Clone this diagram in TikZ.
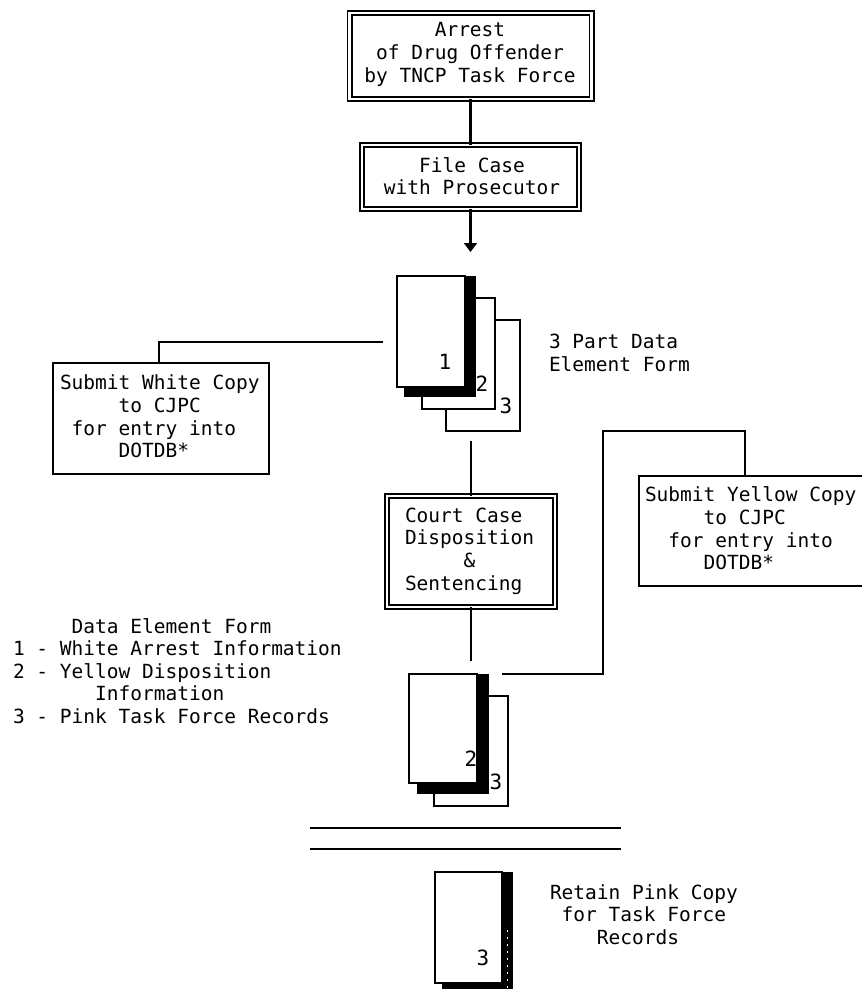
\documentclass[tikz,border=0pt]{standalone}
\usepackage{fontspec}
\setmainfont{DejaVu Sans Mono}
\usetikzlibrary{arrows.meta}
\newlength{\mychar}\setlength{\mychar}{11.74pt}
\newcommand{\ind}[1]{\hspace*{#1\mychar}}
\tikzset{
  x=1pt,y=-1pt,
  every node/.style={inner sep=0pt,outer sep=0pt},
  label text/.style={font=\fontsize{19.5}{22.6}\selectfont,text=black},
  ctext/.style={label text,align=center},
  ltext/.style={label text,align=left,anchor=west},
  conn/.style={line width=2.1pt,draw=black},
  dbox/.style={draw=black,line width=1.8pt,double=white,double distance=2.4pt},
  sbox/.style={draw=black,fill=white,line width=2.2pt},
  sheet/.style={draw=black,fill=white,line width=2.1pt},
  shade/.style={fill=black,draw=none},
  pnum/.style={label text,font=\fontsize{21}{22}\selectfont},
}
\begin{document}
\begin{tikzpicture}
\useasboundingbox (0,0) rectangle (862,989);
% process boxes
\node[dbox,minimum width=242,minimum height=86] (arrest) at (470.5,56) {};
\node[dbox,minimum width=217,minimum height=64] (file) at (470.5,177) {};
\node[dbox,minimum width=168,minimum height=111] (court) at (471,551.5) {};
\node[ctext] (arresttext) at (470,54.5) {Arrest\\of Drug Offender\\by TNCP Task Force};
\node[ctext] (filetext) at (472,176) {File Case\\with Prosecutor};
\node[ltext] (courttext) at (405,551) {Court Case\\Disposition\\\ind{5}\&\\Sentencing};
% first form
\node[sheet,minimum width=74,minimum height=111] (p3a) at (483,375.5) {};
\node[sheet,minimum width=73,minimum height=111] (p2a) at (458.5,353.5) {};
\node[shade,minimum width=72,minimum height=121] (s1a) at (440,336.5) {};
\node[sheet,minimum width=68,minimum height=111] (p1a) at (431,331.5) {};
\node[pnum] (n1a) at (445,362) {1};
\node[pnum] (n2a) at (482,384) {2};
\node[pnum] (n3a) at (506,406) {3};
% second form
\node[sheet,minimum width=74,minimum height=110] (p3b) at (471,751) {};
\node[shade,minimum width=72,minimum height=120] (s2b) at (453,734) {};
\node[sheet,minimum width=68,minimum height=109] (p2b) at (443,728.5) {};
\node[pnum] (n2b) at (471,759) {2};
\node[pnum] (n3b) at (496,782) {3};
% third form
\node[shade,minimum width=71,minimum height=117] (s3c) at (477.5,930.5) {};
\node[sheet,minimum width=67,minimum height=111] (p3c) at (468.5,927.5) {};
\node[pnum] (n3c) at (483,958) {3};
\draw[white,line width=0.9pt,dash pattern=on 2pt off 5pt] (507.5,930) -- (507.5,988);
% side boxes
\node[sbox,minimum width=216,minimum height=111] (white) at (161,418.5) {};
\node[ltext] (whitetext) at (60,416.5) {Submit White Copy\\\ind{5}to CJPC\\\ind{1}for entry into\\\ind{5}DOTDB*};
\coordinate (ytl) at (639,476);
\coordinate (ybl) at (639,586);
\coordinate (ytr) at (862,476);
\coordinate (ybr) at (862,586);
\draw[line width=2.2pt] (ytr) -- (ytl) -- (ybl) -- (ybr);
\node[ltext] (yellowtext) at (645,528.5) {Submit Yellow Copy\\\ind{5}to CJPC\\\ind{2}for entry into\\\ind{5}DOTDB*};
% captions
\node[ltext] (partlabel) at (549,353) {3 Part Data\\Element Form};
\node[ltext] (legend) at (13,671) {\ind{5}Data Element Form\\1 - White Arrest Information\\2 - Yellow Disposition\\\ind{7}Information\\3 - Pink Task Force Records};
\node[ltext] (retain) at (550,914.5) {Retain Pink Copy\\\ind{1}for Task Force\\\ind{4}Records};
% connectors
\coordinate (arrowend) at (470.5,252);
\coordinate (leftstart) at (383,342);
\coordinate (leftcorner) at (159,342);
\coordinate (leftend) at (159,364);
\coordinate (c1top) at (471,441);
\coordinate (c2end) at (471,661);
\coordinate (ystart) at (502,674);
\coordinate (yc1) at (603,674);
\coordinate (yc2) at (603,431);
\coordinate (yc3) at (745,431);
\coordinate (yend) at (745,476);
\coordinate (r1a) at (310,828);
\coordinate (r1b) at (621,828);
\coordinate (r2a) at (310,849);
\coordinate (r2b) at (621,849);
\draw[conn] (arrest.south) -- (file.north);
\draw[conn,-{Triangle[width=13pt,length=9pt]}] (file.south) -- (arrowend);
\draw[conn] (leftstart) -- (leftcorner) -- (leftend);
\draw[conn] (c1top) -- (court.north);
\draw[conn] (court.south) -- (c2end);
\draw[conn] (ystart) -- (yc1) -- (yc2) -- (yc3) -- (yend);
\draw[conn] (r1a) -- (r1b);
\draw[conn] (r2a) -- (r2b);
\end{tikzpicture}
\end{document}
